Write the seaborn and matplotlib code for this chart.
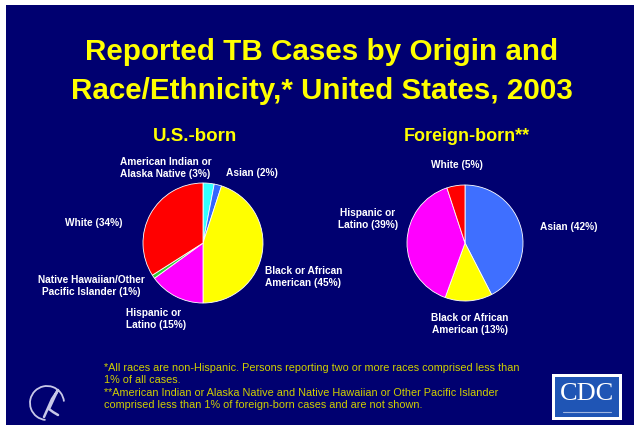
import matplotlib
matplotlib.use("Agg")
import matplotlib.pyplot as plt
from matplotlib.patches import Rectangle, Arc
import seaborn as sns

sns.set_style("white")
plt.rcParams['font.family'] = ['Liberation Sans', 'DejaVu Sans']

# ---- data ----
us_groups = ["American Indian or\nAlaska Native", "Asian", "Black or African\nAmerican",
             "Hispanic or\nLatino", "Native Hawaiian/Other\nPacific Islander", "White"]
us_pct = [3, 2, 45, 15, 1, 34]
us_colors = ["#33ffff", "#3366ff", "#ffff00", "#ff00ff", "#33cc33", "#ff0000"]

fb_groups = ["Asian", "Black or African\nAmerican", "Hispanic or\nLatino", "White"]
fb_pct = [42, 13, 39, 5]
fb_colors = ["#3f6fff", "#ffff00", "#ff00ff", "#ff0000"]

title_lines = ["Reported TB Cases by Origin and", "Race/Ethnicity,* United States, 2003"]
subtitles = ["U.S.-born", "Foreign-born**"]
footnotes = ("*All races are non-Hispanic. Persons reporting two or more races comprised less than\n"
             "1% of all cases.\n"
             "**American Indian or Alaska Native and Native Hawaiian or Other Pacific Islander\n"
             "comprised less than 1% of foreign-born cases and are not shown.")

W, H = 643, 431
NAVY = "#000070"
YEL = "#ffff00"

fig = plt.figure(figsize=(W / 100, H / 100), dpi=100)
fig.patch.set_facecolor("white")

# background axes in pixel coords (y down)
bg = fig.add_axes([0, 0, 1, 1])
bg.set_xlim(0, W)
bg.set_ylim(H, 0)
bg.axis("off")
bg.add_patch(Rectangle((6, 6), 628, 420, facecolor=NAVY, edgecolor="none", zorder=0))

# title
bg.text(322, 52, title_lines[0], color=YEL, fontsize=21.3, fontweight="bold",
        ha="center", va="center")
bg.text(322, 91, title_lines[1], color=YEL, fontsize=21.3, fontweight="bold",
        ha="center", va="center")
bg.text(195, 137, subtitles[0], color=YEL, fontsize=13.5, fontweight="bold", ha="center", va="center")
bg.text(467, 137, subtitles[1], color=YEL, fontsize=13, fontweight="bold", ha="center", va="center")


def add_pie(cx, cy, r, vals, cols):
    ax = fig.add_axes([(cx - r) / W, (H - cy - r) / H, 2 * r / W, 2 * r / H])
    ax.pie(vals, colors=cols, startangle=90, counterclock=False,
           wedgeprops=dict(edgecolor="white", linewidth=0.6))
    ax.set_xlim(-1.0, 1.0)
    ax.set_ylim(-1.0, 1.0)
    ax.set_aspect("auto")
    ax.axis("off")
    return ax


add_pie(203, 244, 60, us_pct, us_colors)
add_pie(465, 244, 58, fb_pct, fb_colors)

lab = dict(color="white", fontsize=7.3, fontweight="bold", linespacing=1.15)


def lbl(i, groups, pcts):
    return f"{groups[i]} ({pcts[i]}%)"


# US-born labels
bg.text(166, 168, lbl(0, us_groups, us_pct), ha="center", va="center", multialignment="left", **lab)
bg.text(226, 173, lbl(1, us_groups, us_pct), ha="left", va="center", **lab)
bg.text(265, 277, lbl(2, us_groups, us_pct), ha="left", va="center", multialignment="left", **lab)
bg.text(126, 319, lbl(3, us_groups, us_pct), ha="left", va="center", multialignment="left", **lab)
bg.text(91, 286, lbl(4, us_groups, us_pct), ha="center", va="center", multialignment="center", **lab)
bg.text(94, 223, lbl(5, us_groups, us_pct), ha="center", va="center", **lab)

# Foreign-born labels
bg.text(540, 227, lbl(0, fb_groups, fb_pct), ha="left", va="center", **lab)
bg.text(470, 324, lbl(1, fb_groups, fb_pct), ha="center", va="center", multialignment="center", **lab)
bg.text(368, 219, lbl(2, fb_groups, fb_pct), ha="center", va="center", multialignment="center", **lab)
bg.text(457, 165, lbl(3, fb_groups, fb_pct), ha="center", va="center", **lab)

# footnotes
bg.text(104, 363, footnotes, color="#d0d000", fontsize=7.8, ha="left", va="top", linespacing=1.3)

# CDC logo
bg.add_patch(Rectangle((552, 375), 70, 46, facecolor="white", edgecolor="none", zorder=2))
bg.add_patch(Rectangle((555, 378), 64, 40, facecolor="#1f55b5", edgecolor="none", zorder=3))
bg.text(587, 394, "CDC", color="white", fontsize=19, fontfamily="Liberation Serif",
        ha="center", va="center", zorder=4)
bg.plot([563, 611], [413, 413], color="#9fb5e0", lw=0.8, zorder=4)

# HHS logo (simplified)
bg.add_patch(Arc((47, 404), 34, 34, theta1=95, theta2=355, color="#c8c8e8", lw=1.3, zorder=2))
bg.plot([44, 52, 58, 55, 49, 53, 58], [418, 400, 391, 397, 410, 413, 416], color="#c8c8e8",
        lw=1.8, zorder=3)

fig.savefig("out.png", dpi=100, facecolor=fig.get_facecolor())
